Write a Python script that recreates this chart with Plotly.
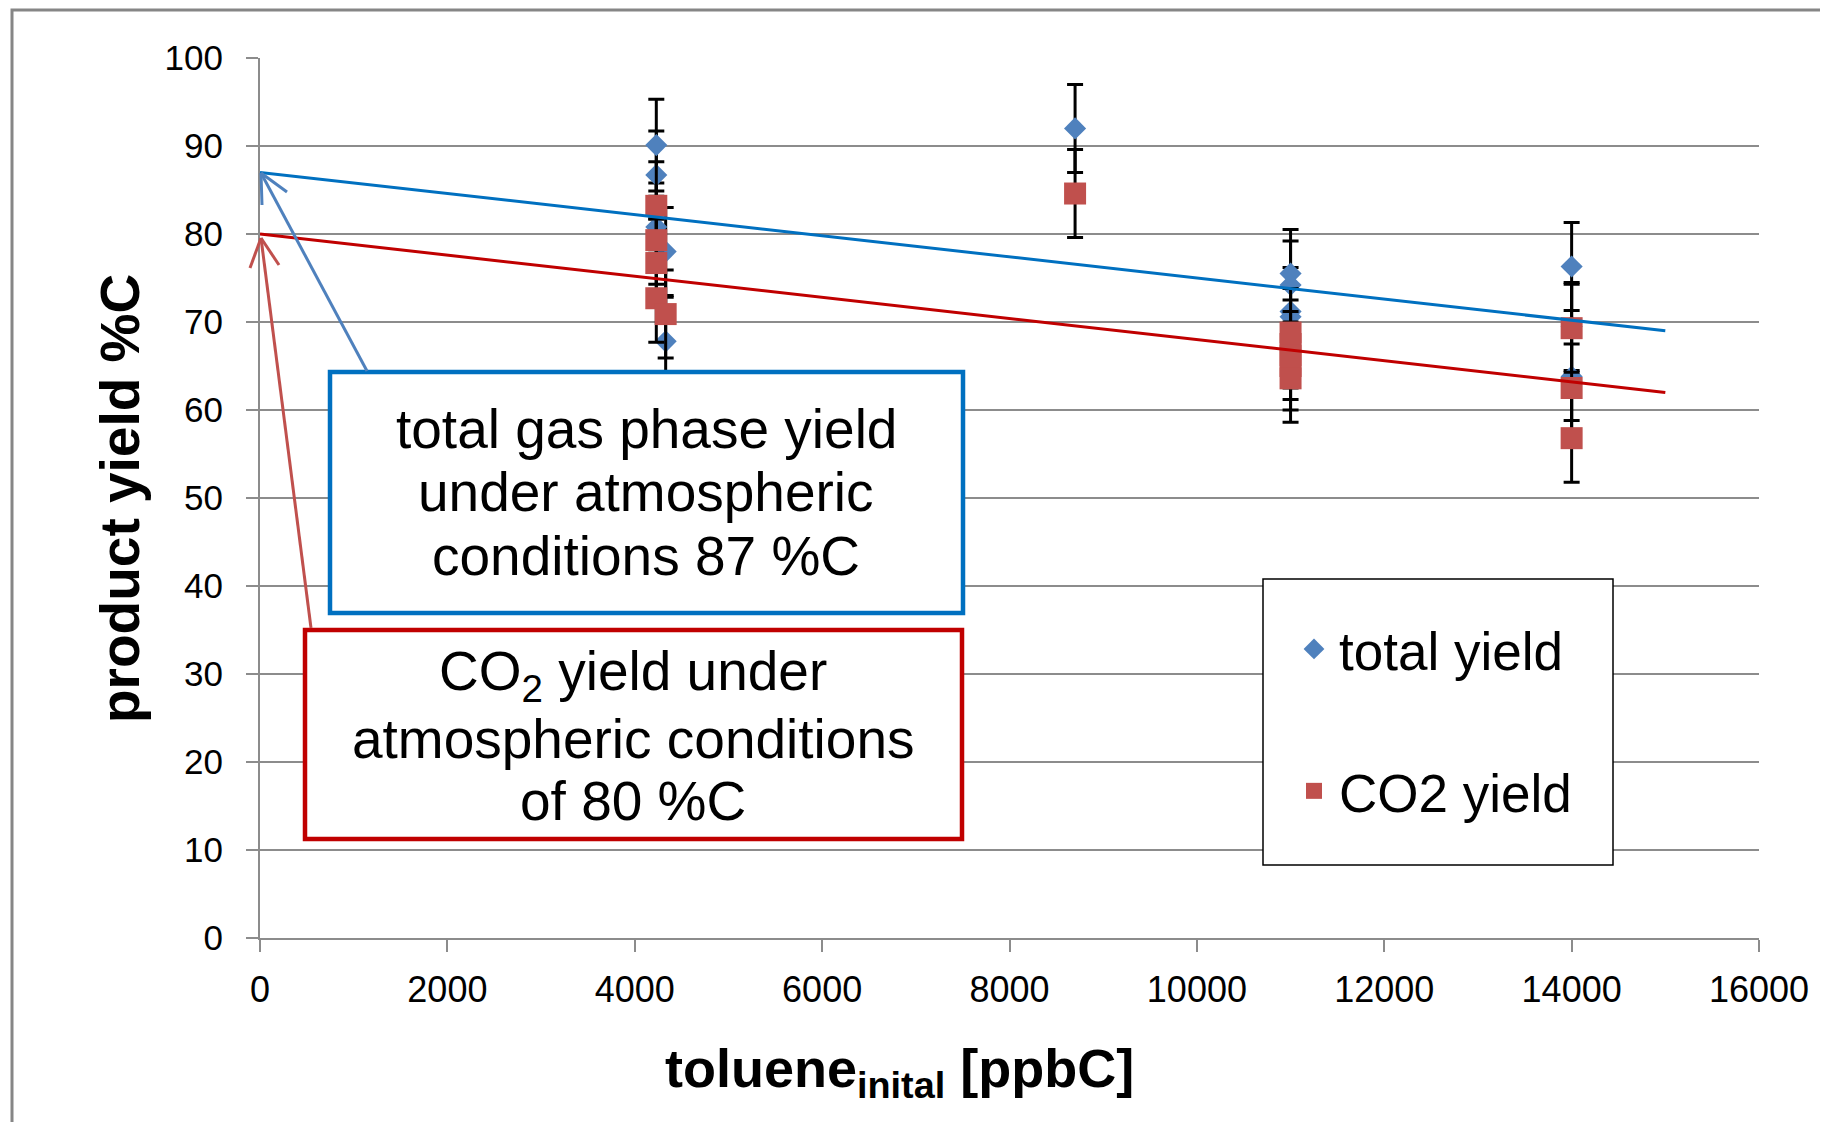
import plotly.graph_objects as go

# ---- data ----
total_x = [4230, 4230, 4230, 4330, 4330, 8700, 11000, 11000, 11000, 11000, 14000, 14000, 14000]
total_y = [90.1, 86.7, 80.8, 78.0, 67.8, 92.0, 75.5, 74.2, 71.2, 70.6, 76.3, 69.5, 63.8]
total_err = [5.2, 5.0, 5.0, 5.0, 5.0, 5.0, 5.0, 5.0, 5.0, 5.0, 5.0, 5.0, 5.0]

co2_x = [4230, 4230, 4230, 4230, 4330, 8700, 11000, 11000, 11000, 11000, 11000, 14000, 14000, 14000]
co2_y = [83.2, 79.3, 76.7, 72.7, 70.9, 84.6, 68.8, 67.5, 66.2, 65.0, 63.6, 69.3, 62.5, 56.8]
co2_err = [5.0, 5.0, 5.0, 5.0, 5.0, 5.0, 5.0, 5.0, 5.0, 5.0, 5.0, 5.0, 5.0, 5.0]

trend_x = [0, 15000]
total_trend = [87, 69]
co2_trend = [80, 62]

x_ticks = [0, 2000, 4000, 6000, 8000, 10000, 12000, 14000, 16000]
y_ticks = [0, 10, 20, 30, 40, 50, 60, 70, 80, 90, 100]

FONT = "Liberation Sans, Arial, sans-serif"
GRID = "#8C8C8C"
BLUE_M = "#4F81BD"
RED_M = "#C0504D"
BLUE_L = "#0070C0"
RED_L = "#C00000"

fig = go.Figure()

fig.add_trace(go.Scatter(
    x=total_x, y=total_y, mode="markers", name="total yield",
    legendgroup="a",
    marker=dict(symbol="diamond", size=17, color=BLUE_M, line=dict(width=0)),
    error_y=dict(type="data", array=total_err, visible=True, color="black", thickness=3, width=8),
))
fig.add_trace(go.Scatter(
    x=co2_x, y=co2_y, mode="markers", name="CO2 yield",
    legendgroup="b",
    marker=dict(symbol="square", size=22, color=RED_M, line=dict(width=0)),
    error_y=dict(type="data", array=co2_err, visible=True, color="black", thickness=3, width=8),
))
fig.add_trace(go.Scatter(x=trend_x, y=total_trend, mode="lines", showlegend=False,
                         line=dict(color=BLUE_L, width=3)))
fig.add_trace(go.Scatter(x=trend_x, y=co2_trend, mode="lines", showlegend=False,
                         line=dict(color=RED_L, width=3)))

# page body has an 8px margin: figure is sized/offset to compensate
OFF = 8
W, H = 1828 - OFF, 1122 - OFF
PX0, PX1, PY0, PY1 = 260, 1759, 58, 938   # plot area in screen pixels
L, T = PX0 - OFF, PY0 - OFF
R, B = W + OFF - PX1, H + OFF - PY1
PW, PH = PX1 - PX0, PY1 - PY0

def px(x):
    return (x - PX0) / PW

def py(y):
    return (PY1 - y) / PH

def seg(x0, y0, x1, y1, color, width):
    return dict(type="line", xref="paper", yref="paper", x0=px(x0), y0=py(y0), x1=px(x1), y1=py(y1),
                line=dict(color=color, width=width), layer="above")

shapes = [
    # outer chart border
    dict(type="rect", xref="paper", yref="paper", x0=px(12), x1=px(1900), y0=py(1200), y1=py(10),
         line=dict(color="#868686", width=3), layer="below"),
    # blue box
    dict(type="rect", xref="paper", yref="paper", x0=px(330), x1=px(963), y0=py(613), y1=py(372),
         line=dict(color=BLUE_L, width=4.5), fillcolor="white", layer="above"),
    # red box
    dict(type="rect", xref="paper", yref="paper", x0=px(305), x1=px(962), y0=py(839), y1=py(630),
         line=dict(color=RED_L, width=4.5), fillcolor="white", layer="above"),
    # legend box
    dict(type="rect", xref="paper", yref="paper", x0=px(1263), x1=px(1613), y0=py(865), y1=py(579),
         line=dict(color="black", width=1.5), fillcolor="white", layer="above"),
    # blue arrow (shaft + open head)
    seg(367, 371, 261, 173, BLUE_M, 3),
    seg(261, 173, 287, 192, BLUE_M, 3),
    seg(261, 173, 262, 205, BLUE_M, 3),
    # red arrow (shaft + open head)
    seg(311, 628, 261, 238, RED_M, 3),
    seg(261, 238, 250, 268, RED_M, 3),
    seg(261, 238, 279, 265, RED_M, 3),
]

ann = []
for txt, yy in [("total gas phase yield", 429), ("under atmospheric", 492), ("conditions 87 %C", 556)]:
    ann.append(dict(text=txt, xref="paper", yref="paper", x=px(646), y=py(yy), xanchor="center",
                    yanchor="middle", showarrow=False, font=dict(family=FONT, size=55, color="black")))
for txt, yy in [("CO<sub>2</sub> yield under", 675), ("atmospheric conditions", 739), ("of 80 %C", 801)]:
    ann.append(dict(text=txt, xref="paper", yref="paper", x=px(633), y=py(yy), xanchor="center",
                    yanchor="middle", showarrow=False, font=dict(family=FONT, size=55, color="black")))
ann.append(dict(text="<b>product yield %C</b>", xref="paper", yref="paper", x=px(120), y=py(499),
                xanchor="center", yanchor="middle", textangle=-90, showarrow=False,
                font=dict(family=FONT, size=55, color="black")))
ann.append(dict(text="<b>toluene<sub>inital</sub> [ppbC]</b>", xref="paper", yref="paper", x=px(899), y=py(1072),
                xanchor="center", yanchor="middle", showarrow=False,
                font=dict(family=FONT, size=54, color="black")))

fig.update_layout(
    width=W, height=H,
    margin=dict(l=L, r=R, t=T, b=B, pad=0),
    paper_bgcolor="white", plot_bgcolor="white",
    font=dict(family=FONT, color="black"),
    shapes=shapes,
    annotations=ann,
    showlegend=True,
    legend=dict(x=px(1289), y=py(608), xanchor="left", yanchor="top",
                bgcolor="rgba(0,0,0,0)", borderwidth=0, itemwidth=40,
                font=dict(family=FONT, size=53, color="black"),
                traceorder="grouped", tracegroupgap=70),
    xaxis=dict(range=[0, 16000], tickvals=x_ticks, ticktext=[str(v) for v in x_ticks],
               showgrid=False, zeroline=False, showline=True, linecolor=GRID, linewidth=2,
               ticks="outside", ticklen=12, tickwidth=2, tickcolor=GRID, ticklabelstandoff=7,
               tickfont=dict(family=FONT, size=36, color="black")),
    yaxis=dict(range=[0, 100], tickvals=y_ticks, ticktext=[str(v) for v in y_ticks],
               showgrid=True, gridcolor=GRID, gridwidth=2, zeroline=False,
               showline=True, linecolor=GRID, linewidth=2,
               ticks="outside", ticklen=12, tickwidth=2, tickcolor=GRID, ticklabelstandoff=16,
               tickfont=dict(family=FONT, size=35, color="black")),
)

fig.write_html("out.html")
